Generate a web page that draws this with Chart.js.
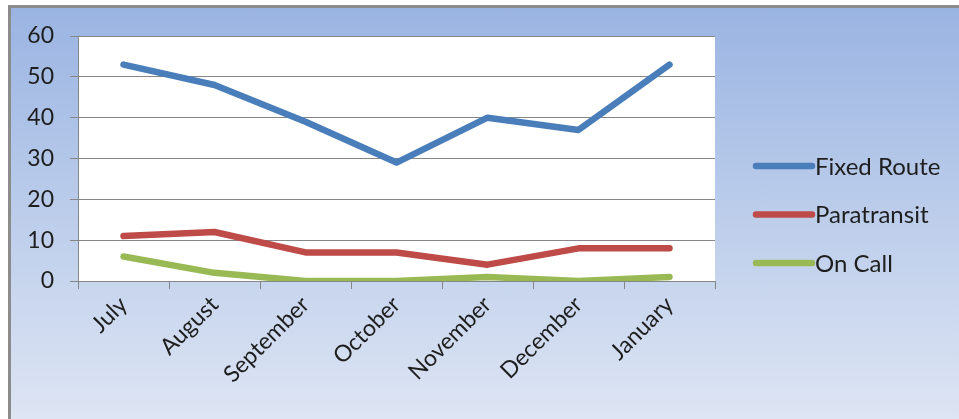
<!DOCTYPE html>
<html><head><meta charset="utf-8">
<script src="https://cdn.jsdelivr.net/npm/chart.js@4"></script>
<style>
html,body{margin:0;padding:0;background:#fff;width:959px;height:419px;overflow:hidden}
#bg{position:absolute;left:8px;top:5px;width:960px;height:420px;border-left:3px solid #8c8c8c;border-top:3px solid #8c8c8c;background:linear-gradient(180deg,#9ab4e2 0%,#b9cbea 45%,#dfe6f4 100%)}
#wrap{position:absolute;left:0;top:0;width:959px;height:419px}
</style></head>
<body><div id="bg"></div><div id="wrap"><canvas id="c"></canvas></div>
<script>
const categories = ["July","August","September","October","November","December","January"];
const fixedRoute = [53,48,39,29,40,37,53];
const paratransit = [11,12,7,7,4,8,8];
const onCall = [6,2,0,0,1,0,1];
const yTicks = [0,10,20,30,40,50,60];

const FAMILY = "Lato, 'Open Sans', sans-serif";
const TICKFONT = {family:FAMILY, size:23};
const LEGFONT = {family:FAMILY, size:24};
const TXT = '#1e1e1e';
const GRID = '#868686';

const plotBg = {
  id:'plotBg',
  beforeDraw(chart){
    const {ctx, chartArea:a} = chart;
    ctx.save(); ctx.fillStyle='#fff';
    ctx.fillRect(a.left, a.top, a.right-a.left, a.bottom-a.top);
    ctx.restore();
  }
};
const sideLegend = {
  id:'sideLegend',
  afterDraw(chart){
    const {ctx} = chart;
    const x0 = 756, x1 = 812, yStart = 166, step = 48.5;
    ctx.save();
    chart.data.datasets.forEach((ds,i)=>{
      const y = yStart + i*step;
      ctx.strokeStyle = ds.borderColor; ctx.lineWidth = 6.5; ctx.lineCap='round';
      ctx.beginPath(); ctx.moveTo(x0,y); ctx.lineTo(x1,y); ctx.stroke();
      ctx.fillStyle = TXT; ctx.font = LEGFONT.size+'px '+LEGFONT.family;
      ctx.textBaseline='middle'; ctx.textAlign='left';
      ctx.fillText(ds.label, x1+3, y+1);
    });
    ctx.restore();
  }
};

new Chart(document.getElementById('c'), {
  type:'line',
  data:{
    labels:categories,
    datasets:[
      {label:'Fixed Route', data:fixedRoute, borderColor:'#4a7ebb'},
      {label:'Paratransit', data:paratransit, borderColor:'#be4b48'},
      {label:'On Call', data:onCall, borderColor:'#98b954'}
    ].map(d=>Object.assign(d,{borderWidth:6.5,pointRadius:0,tension:0,borderCapStyle:'round',borderJoinStyle:'round',fill:false}))
  },
  options:{
    responsive:true, maintainAspectRatio:false, animation:false,
    layout:{padding:{left:0,right:244,top:36,bottom:0}},
    plugins:{legend:{display:false}, tooltip:{enabled:false}},
    scales:{
      x:{
        offset:true,
        grid:{offset:true, drawOnChartArea:false, drawTicks:true, tickLength:8, color:GRID},
        border:{color:GRID, width:1},
        ticks:{minRotation:45, maxRotation:45, font:TICKFONT, color:TXT, padding:2},
        afterFit(s){ s.height = 138; }
      },
      y:{
        min:0, max:60,
        afterBuildTicks(s){ s.ticks = yTicks.map(v=>({value:v})); },
        grid:{color:GRID, tickLength:8, drawTicks:true},
        border:{color:GRID, width:1},
        ticks:{font:TICKFONT, color:TXT, padding:16},
        afterFit(s){ s.width = 78; }
      }
    }
  },
  plugins:[plotBg, sideLegend]
});
</script>
</body></html>
